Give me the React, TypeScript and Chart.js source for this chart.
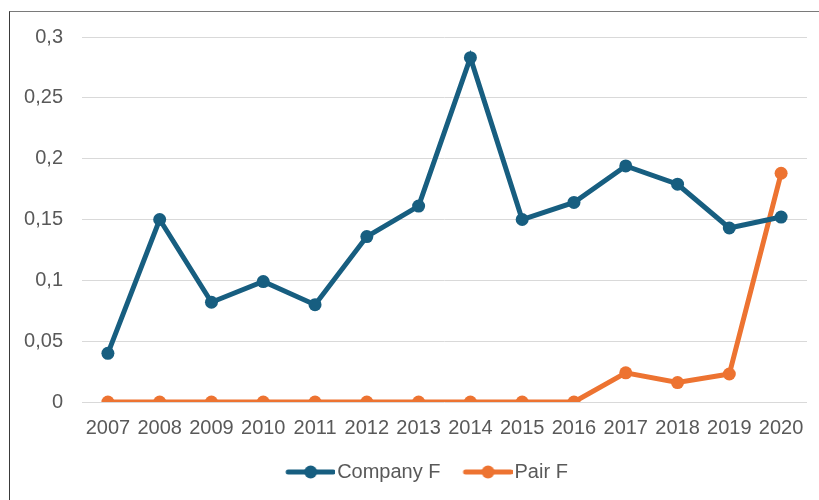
import React, { useEffect, useRef } from "react";
import { Chart, registerables } from "chart.js";

Chart.register(...registerables);

const years = ["2007", "2008", "2009", "2010", "2011", "2012", "2013", "2014", "2015", "2016", "2017", "2018", "2019", "2020"];
const companyF = [0.040, 0.150, 0.082, 0.099, 0.080, 0.136, 0.161, 0.283, 0.150, 0.164, 0.194, 0.179, 0.143, 0.152];
const pairF = [0, 0, 0, 0, 0, 0, 0, 0, 0, 0, 0.024, 0.016, 0.023, 0.188];
const yTickValues = [0, 0.05, 0.1, 0.15, 0.2, 0.25, 0.3];
const yTickLabels = ["0", "0,05", "0,1", "0,15", "0,2", "0,25", "0,3"];

const BLUE = "#175E80";
const ORANGE = "#ED7331";
const TEXT = "#595959";
const FONT = "'Liberation Sans', Arial, sans-serif";
const FS = 20;

function legendIcon(color: string): HTMLCanvasElement {
  const c = document.createElement("canvas");
  c.width = 70;
  c.height = 16;
  const ctx = c.getContext("2d")!;
  ctx.strokeStyle = color;
  ctx.lineWidth = 5;
  ctx.lineCap = "round";
  ctx.beginPath();
  ctx.moveTo(23, 8);
  ctx.lineTo(68, 8);
  ctx.stroke();
  ctx.fillStyle = color;
  ctx.beginPath();
  ctx.arc(45.5, 8, 6.5, 0, Math.PI * 2);
  ctx.fill();
  return c;
}

const legendShift = {
  id: "legendShift",
  afterLayout(chart: any) {
    const lg = chart.legend;
    if (lg) {
      lg.left += 17;
      lg.right += 17;
    }
  },
};

export default function App() {
  const ref = useRef<HTMLCanvasElement>(null);
  useEffect(() => {
    if (!ref.current) return;
    const icons = [legendIcon(BLUE), legendIcon(ORANGE)];
    const chart = new Chart(ref.current, {
      type: "line",
      data: {
        labels: years,
        datasets: [
          {
            label: "Company F",
            data: companyF,
            borderColor: BLUE,
            backgroundColor: BLUE,
            borderWidth: 5,
            pointRadius: 6.5,
            pointHoverRadius: 6.5,
            pointBackgroundColor: BLUE,
            pointBorderWidth: 0,
            tension: 0,
          },
          {
            label: "Pair F",
            data: pairF,
            borderColor: ORANGE,
            backgroundColor: ORANGE,
            borderWidth: 5,
            pointRadius: 6.5,
            pointHoverRadius: 6.5,
            pointBackgroundColor: ORANGE,
            pointBorderWidth: 0,
            tension: 0,
          },
        ],
      },
      plugins: [legendShift],
      options: {
        animation: false,
        responsive: false,
        maintainAspectRatio: false,
        layout: { padding: { left: 0, right: 12, top: 37, bottom: 8 } },
        plugins: {
          tooltip: { enabled: false },
          legend: {
            position: "bottom",
            labels: {
              font: { family: FONT, size: FS },
              color: TEXT,
              usePointStyle: true,
              pointStyleWidth: 54,
              padding: 10,
              generateLabels: (chart: any) => {
                const items = Chart.defaults.plugins.legend.labels.generateLabels(chart);
                return items.map((it: any, i: number) => ({ ...it, pointStyle: icons[i] }));
              },
            },
          },
        },
        scales: {
          x: {
            offset: true,
            grid: { display: false, drawTicks: false },
            border: { display: false },
            ticks: { color: TEXT, font: { family: FONT, size: FS }, padding: 14, maxRotation: 0, autoSkip: false },
            afterFit: (s: any) => { s.height = 50; },
          },
          y: {
            min: 0,
            max: 0.3,
            afterBuildTicks: (s: any) => { s.ticks = yTickValues.map((v) => ({ value: v })); },
            grid: { color: "#D9D9D9", lineWidth: 1, drawTicks: false },
            border: { display: false },
            ticks: {
              color: TEXT,
              font: { family: FONT, size: FS },
              padding: 19,
              callback: (v: any) => {
                const i = yTickValues.findIndex((t) => Math.abs(t - Number(v)) < 1e-9);
                return i >= 0 ? yTickLabels[i] : "";
              },
            },
            afterFit: (s: any) => { s.width = 82; },
          },
        },
      },
    } as any);
    return () => chart.destroy();
  }, []);

  return (
    <div style={{ position: "fixed", left: 0, top: 0, width: 819, height: 500, overflow: "hidden", background: "#fff" }}>
      <canvas ref={ref} width={819} height={500} style={{ position: "absolute", left: 0, top: 0, width: 819, height: 500 }} />
      <div
        style={{
          position: "absolute",
          left: 9,
          top: 11,
          width: 900,
          height: 600,
          borderTop: "1px solid #7a7a7a",
          borderLeft: "1px solid #3a3a3a",
          pointerEvents: "none",
        }}
      />
    </div>
  );
}
